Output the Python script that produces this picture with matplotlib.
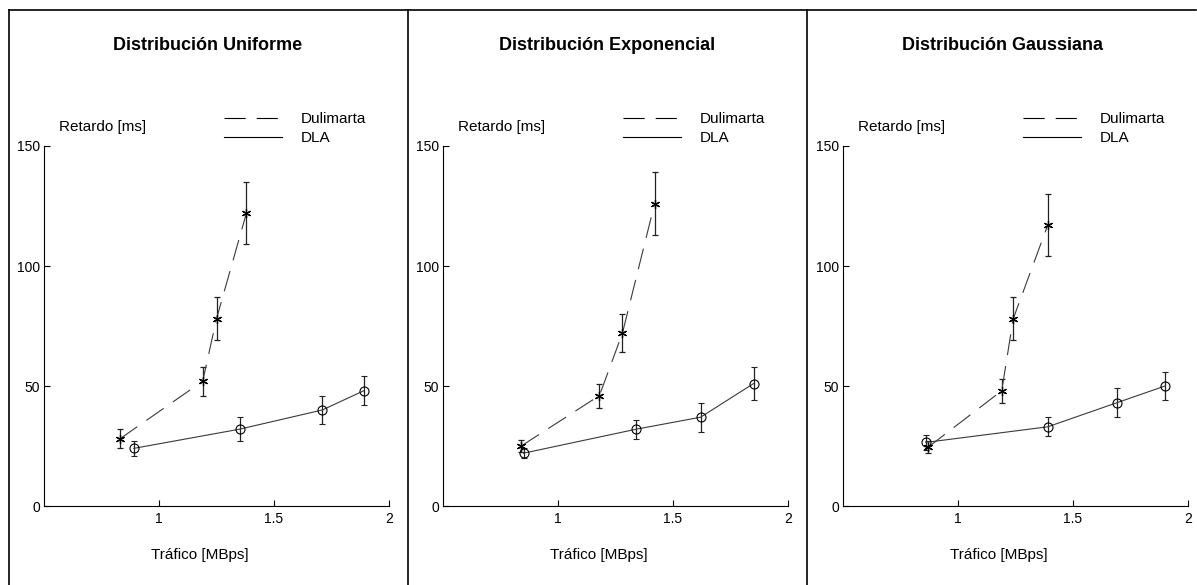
import matplotlib
matplotlib.use('Agg')
import matplotlib.pyplot as plt
from matplotlib.lines import Line2D

plt.rcParams['font.family'] = ['Liberation Sans', 'DejaVu Sans']

titles = ['Distribución Uniforme', 'Distribución Exponencial', 'Distribución Gaussiana']

# Dulimarta (dashed, asterisks)
dul_x = [[0.83, 1.19, 1.25, 1.38],
         [0.84, 1.18, 1.28, 1.42],
         [0.87, 1.19, 1.24, 1.39]]
dul_y = [[28, 52, 78, 122],
         [25, 46, 72, 126],
         [24.5, 48, 78, 117]]
dul_err = [[4, 6, 9, 13],
           [2.5, 5, 8, 13],
           [2.5, 5, 9, 13]]

# DLA (solid, circles)
dla_x = [[0.89, 1.35, 1.71, 1.89],
         [0.85, 1.34, 1.62, 1.85],
         [0.86, 1.39, 1.69, 1.90]]
dla_y = [[24, 32, 40, 48],
         [22, 32, 37, 51],
         [26.5, 33, 43, 50]]
dla_err = [[3, 5, 6, 6],
           [2, 4, 6, 7],
           [3, 4, 6, 6]]

W, H = 1197, 585
fig = plt.figure(figsize=(W / 100, H / 100), dpi=100)

# panel frames
fig.add_artist(Line2D([9 / W, 1196 / W], [1 - 10 / H] * 2, color='black', lw=1.2))
for px in [9, 408, 807]:
    fig.add_artist(Line2D([px / W] * 2, [0, 1 - 10 / H], color='black', lw=1.2))

lefts = [44, 443, 843]
panel_centers = [208, 607, 1002]
line_col = '#3a3a3a'
dash = (19, 10)

for i in range(3):
    ax = fig.add_axes([lefts[i] / W, 1 - 506 / H, 345 / W, 360 / H])
    ax.errorbar(dul_x[i], dul_y[i], yerr=dul_err[i], color=line_col, lw=0.8,
                dashes=dash, marker=(6, 2, 0), markersize=6.5, mec='black',
                mew=0.9, ecolor='#222222', elinewidth=0.9, capsize=2.2)
    ax.errorbar(dla_x[i], dla_y[i], yerr=dla_err[i], color=line_col, lw=0.8,
                marker='o', markersize=6.5, mfc='none', mec='black', mew=0.8,
                ecolor='#222222', elinewidth=0.9, capsize=2.2)
    ax.set_xlim(0.5, 2)
    ax.set_ylim(0, 150)
    ax.set_xticks([1, 1.5, 2])
    ax.set_xticklabels(['1', '1.5', '2'])
    ax.set_yticks([0, 50, 100, 150])
    ax.tick_params(direction='in', length=4, width=0.8, labelsize=10, colors='black')
    ax.tick_params(axis='x', pad=4)
    ax.tick_params(axis='y', pad=3)
    for s in ['top', 'right']:
        ax.spines[s].set_visible(False)
    for s in ['left', 'bottom']:
        ax.spines[s].set_linewidth(0.8)
    ax.text(15 / 345, 1 + 19 / 360, 'Retardo [ms]', transform=ax.transAxes,
            fontsize=11, va='center', ha='left')
    ax.text(0.451, -49 / 360, 'Tráfico [MBps]', transform=ax.transAxes,
            fontsize=11, va='center', ha='center')
    fig.text(panel_centers[i] / W, 1 - 45 / H, titles[i], fontsize=13,
             fontweight='bold', ha='center', va='center')
    handles = [Line2D([], [], color='black', lw=0.8, dashes=dash),
               Line2D([], [], color='black', lw=0.8)]
    ax.legend(handles, ['Dulimarta', 'DLA'], loc='upper left',
              bbox_to_anchor=(180 / 345, 1 + 34 / 360), frameon=False,
              borderpad=0, borderaxespad=0, handlelength=3.8,
              handletextpad=1.2, labelspacing=0.32, fontsize=11)

fig.savefig('out.png', dpi=100)
